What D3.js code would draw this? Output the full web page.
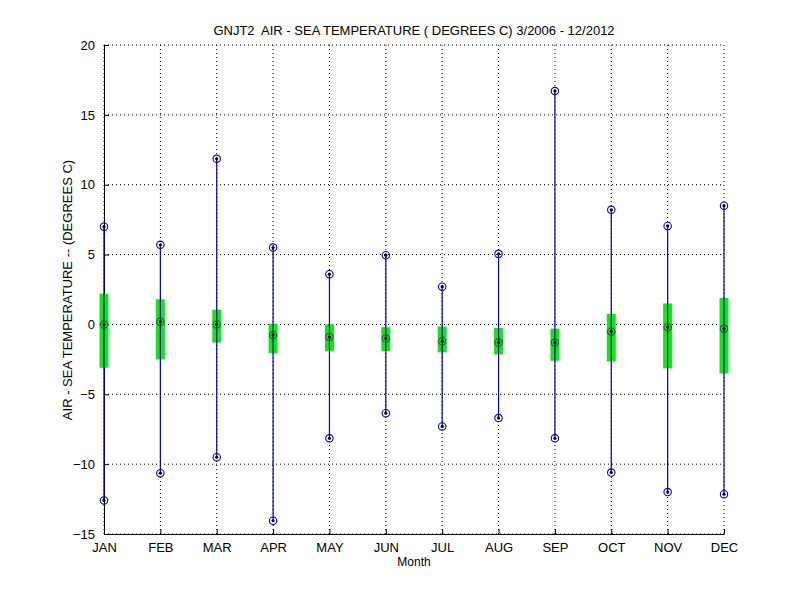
<!DOCTYPE html>
<html>
<head>
<meta charset="utf-8">
<script src="https://cdn.jsdelivr.net/npm/d3@7"></script>
<style>
body { margin: 0; background: #fff; }
text { font-family: "Liberation Sans", Arial, sans-serif; fill: #000; }
</style>
</head>
<body>
<script>
// monthly stats
var months = ['JAN','FEB','MAR','APR','MAY','JUN','JUL','AUG','SEP','OCT','NOV','DEC'];
var maxVals  = [7.0, 5.7, 11.85, 5.5, 3.6, 4.95, 2.7, 5.05, 16.7, 8.2, 7.05, 8.5];
var minVals  = [-12.6, -10.65, -9.5, -14.05, -8.15, -6.35, -7.3, -6.7, -8.15, -10.6, -12.0, -12.15];
var meanVals = [0.0, 0.2, 0.0, -0.75, -0.9, -1.0, -1.2, -1.3, -1.3, -0.5, -0.2, -0.3];
var barTop   = [2.2, 1.8, 1.05, 0.05, 0.0, -0.2, -0.15, -0.25, -0.3, 0.75, 1.5, 1.9];
var barBot   = [-3.1, -2.5, -1.3, -2.05, -1.9, -1.9, -2.0, -2.15, -2.6, -2.65, -3.15, -3.5];
var yTicks = [-15, -10, -5, 0, 5, 10, 15, 20];

var svg = d3.select('body').append('svg')
	.attr('width', 800)
	.attr('height', 600);

var x = d3.scaleLinear().domain([1, 12]).range([104, 724]);
var y = d3.scaleLinear().domain([-15, 20]).range([534, 45]);

// grid
var grid = svg.append('g');
grid.selectAll('line.gy')
	.data(yTicks).enter()
	.append('line')
	.attr('x1', x(1)).attr('x2', x(12))
	.attr('y1', function(d) { return y(d); })
	.attr('y2', function(d) { return y(d); })
	.attr('stroke', '#000')
	.attr('stroke-width', 1)
	.attr('stroke-dasharray', '1,3');
grid.selectAll('line.gx')
	.data(months).enter()
	.append('line')
	.attr('x1', function(d, i) { return x(i + 1); })
	.attr('x2', function(d, i) { return x(i + 1); })
	.attr('y1', y(-15)).attr('y2', y(20))
	.attr('stroke', '#000')
	.attr('stroke-width', 1)
	.attr('stroke-dasharray', '1,3');

// axes (left + bottom, ticks inward)
var yAxis = d3.axisLeft(y).tickValues(yTicks).tickSizeInner(-5).tickSizeOuter(0).tickPadding(9);
var xAxis = d3.axisBottom(x).tickValues(d3.range(1, 13)).tickFormat(function(d) { return months[d - 1]; })
	.tickSizeInner(-5).tickSizeOuter(0).tickPadding(9);

var ga = svg.append('g').attr('transform', 'translate(' + x(1) + ',0)').call(yAxis);
var gb = svg.append('g').attr('transform', 'translate(0,' + y(-15) + ')').call(xAxis);
[ga, gb].forEach(function(g) {
	g.selectAll('path,line').attr('stroke', '#000');
	g.selectAll('text')
		.style('font-family', '"Liberation Sans", Arial, sans-serif')
		.style('font-size', '13px')
		.attr('fill', '#000');
});

var data = months.map(function(m, i) {
	return { m: m, i: i, max: maxVals[i], min: minVals[i], mean: meanVals[i], top: barTop[i], bot: barBot[i] };
});

var marks = svg.append('g');

// green boxes
marks.selectAll('rect.bar')
	.data(data).enter()
	.append('rect')
	.attr('x', function(d) { return x(d.i + 1) - 4.5; })
	.attr('width', 9)
	.attr('y', function(d) { return y(d.top); })
	.attr('height', function(d) { return y(d.bot) - y(d.top); })
	.attr('fill', '#14e614');

// whiskers
marks.selectAll('line.wh')
	.data(data).enter()
	.append('line')
	.attr('x1', function(d) { return x(d.i + 1); })
	.attr('x2', function(d) { return x(d.i + 1); })
	.attr('y1', function(d) { return y(d.max); })
	.attr('y2', function(d) { return y(d.min); })
	.attr('stroke', '#0000c8')
	.attr('stroke-width', 1.2);

// extreme markers
var ext = [];
data.forEach(function(d) { ext.push({ i: d.i, v: d.max }); ext.push({ i: d.i, v: d.min }); });
marks.selectAll('circle.ext')
	.data(ext).enter()
	.append('circle')
	.attr('cx', function(d) { return x(d.i + 1); })
	.attr('cy', function(d) { return y(d.v); })
	.attr('r', 3.7)
	.attr('fill', 'none')
	.attr('stroke', '#0000c8')
	.attr('stroke-width', 1.1);

// mean markers
marks.selectAll('circle.mean')
	.data(data).enter()
	.append('circle')
	.attr('cx', function(d) { return x(d.i + 1); })
	.attr('cy', function(d) { return y(d.mean); })
	.attr('r', 3.7)
	.attr('fill', 'none')
	.attr('stroke', '#063')
	.attr('stroke-width', 1.1);

// center dots
var dots = ext.concat(data.map(function(d) { return { i: d.i, v: d.mean }; }));
marks.selectAll('circle.dot')
	.data(dots).enter()
	.append('circle')
	.attr('cx', function(d) { return x(d.i + 1); })
	.attr('cy', function(d) { return y(d.v); })
	.attr('r', 1.6)
	.attr('fill', '#000');

// titles
svg.append('text')
	.attr('x', 414).attr('y', 35)
	.attr('text-anchor', 'middle')
	.style('font-size', '13px')
	.style('white-space', 'pre')
	.text('GNJT2  AIR - SEA TEMPERATURE ( DEGREES C) 3/2006 - 12/2012');

svg.append('text')
	.attr('x', 414).attr('y', 566)
	.attr('text-anchor', 'middle')
	.style('font-size', '12px')
	.text('Month');

svg.append('text')
	.attr('transform', 'translate(72,290) rotate(-90)')
	.attr('text-anchor', 'middle')
	.style('font-size', '13px')
	.text('AIR - SEA TEMPERATURE -- (DEGREES C)');
</script>
</body>
</html>
